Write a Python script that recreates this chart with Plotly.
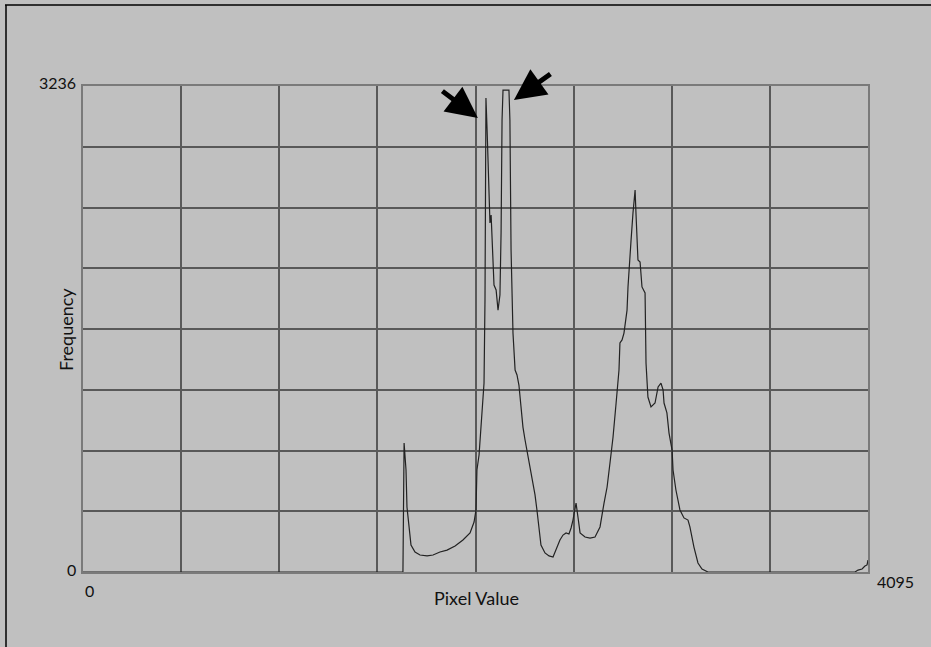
import plotly.graph_objects as go

# Histogram trace (pixel value vs frequency)
pixel_value = [0, 1654, 1669, 1675, 1685, 1690, 1701, 1711, 1732, 1758, 1795, 1826, 1862, 1899,
               1941, 1982, 2019, 2040, 2050, 2055, 2066, 2076, 2092, 2097, 2102, 2108, 2113,
               2118, 2123, 2129, 2134, 2139, 2144, 2155, 2160, 2165, 2175, 2181, 2186, 2191,
               2222, 2227, 2233, 2243, 2254, 2264, 2274, 2285, 2295, 2306, 2316, 2332, 2342,
               2358, 2368, 2379, 2389, 2410, 2431, 2452, 2467, 2488, 2504, 2520, 2535, 2546,
               2556, 2572, 2582, 2593, 2619, 2645, 2671, 2697, 2718, 2734, 2749, 2765, 2781,
               2796, 2801, 2812, 2822, 2833, 2838, 2843, 2853, 2859, 2869, 2874, 2880, 2885,
               2890, 2895, 2906, 2911, 2916, 2932, 2937, 2947, 2963, 2984, 3000, 3015, 3026,
               3031, 3046, 3057, 3073, 3078, 3093, 3114, 3135, 3156, 3166, 3187, 3208, 3229,
               3260, 4027, 4043, 4064, 4079, 4090, 4095]
frequency = [0, 0, 0, 859, 679, 433, 280, 180, 133, 113, 107, 113, 133, 146,
             173, 213, 260, 333, 413, 679, 779, 992, 1258, 1811, 3156, 2943, 2763,
             2477, 2324, 2377, 2244, 2077, 1911, 1878, 1811, 1744, 1844, 2264, 3009, 3209,
             3209, 3009, 2144, 1591, 1345, 1312, 1245, 1079, 965, 879, 812, 712, 632,
             513, 413, 280, 180, 127, 107, 100, 146, 213, 246, 260, 253, 293,
             346, 459, 366, 260, 233, 226, 233, 300, 459, 566, 726, 899, 1125,
             1345, 1525, 1545, 1591, 1678, 1744, 1898, 2124, 2210, 2390, 2477, 2543, 2377,
             2230, 2077, 2064, 1964, 1898, 1858, 1392, 1165, 1099, 1125, 1232, 1258, 1212,
             1125, 1059, 925, 812, 679, 546, 413, 360, 346, 300, 166, 60, 20,
             0, 0, 13, 20, 40, 47, 80]

x_max = 4095
y_max = 3236
x_labels = ["0", "4095"]
y_labels = ["0", "3236"]
x_title = "Pixel Value"
y_title = "Frequency"

BG = "#c0c0c0"
GRID = "#595959"
FONT = "Lato"

fig = go.Figure()
fig.add_trace(go.Scatter(x=pixel_value, y=frequency, mode="lines",
                         line=dict(color="#222", width=1.2), hoverinfo="skip",
                         showlegend=False))

fig.update_xaxes(range=[0, x_max], dtick=x_max / 8, tick0=0, showticklabels=False,
                 showgrid=True, gridcolor=GRID, gridwidth=1.6, zeroline=False,
                 showline=True, linecolor="#7a7a7a", linewidth=2, mirror=True, ticks="")
fig.update_yaxes(range=[0, y_max], dtick=y_max / 8, tick0=0, showticklabels=False,
                 showgrid=True, gridcolor=GRID, gridwidth=1.6, zeroline=False,
                 showline=True, linecolor="#7a7a7a", linewidth=2, mirror=True, ticks="")

W, H = 931, 647
L, R, T, B = 83, 63, 86, 75
pw, ph = W - L - R, H - T - B


def px(x):
    return (x - L) / pw


def py(y):
    return (H - B - y) / ph


lab = dict(family=FONT, size=16, color="#111")
ttl = dict(family=FONT, size=18, color="#111")
ann = []


def label(x, y, text, font, xanchor="center", angle=0):
    ann.append(dict(x=px(x), y=py(y), xref="paper", yref="paper", text=text,
                    xanchor=xanchor, yanchor="middle", textangle=angle,
                    showarrow=False, font=font))


label(89, 590, x_labels[0], lab)
label(895, 581, x_labels[1], lab)
label(78, 569, y_labels[0], lab, xanchor="right")
label(78, 83, y_labels[1], lab, xanchor="right")
label(476, 598, x_title, ttl)
label(66, 330, y_title, ttl, angle=-90)

# Arrows pointing at the two clipped peaks
ann.append(dict(x=2060, y=3023, xref="x", yref="y", ax=-37, ay=-28, showarrow=True,
                arrowhead=2, arrowwidth=5, arrowsize=1.25, arrowcolor="#000", text=""))
ann.append(dict(x=2248, y=3143, xref="x", yref="y", ax=38, ay=-27, showarrow=True,
                arrowhead=2, arrowwidth=5, arrowsize=1.25, arrowcolor="#000", text=""))

shapes = [
    dict(type="line", xref="paper", yref="paper", x0=px(5), x1=px(931), y0=py(5), y1=py(5),
         line=dict(color="#000", width=1.5)),
    dict(type="line", xref="paper", yref="paper", x0=px(6), x1=px(6), y0=py(5), y1=py(647),
         line=dict(color="#000", width=1.5)),
]

fig.update_layout(width=W, height=H, margin=dict(l=L, r=R, t=T, b=B),
                  paper_bgcolor=BG, plot_bgcolor=BG, annotations=ann, shapes=shapes,
                  font=dict(family=FONT))

fig.write_html("out.html", config={"displayModeBar": False},
               post_script="document.body.style.margin='0';document.body.style.overflow='hidden';")
